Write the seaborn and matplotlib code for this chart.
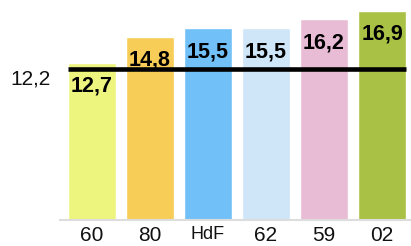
import pandas as pd
import numpy as np
import matplotlib
matplotlib.use('Agg')
import matplotlib.pyplot as plt
import seaborn as sns

categories = ['60', '80', 'HdF', '62', '59', '02']
values = [12.7, 14.8, 15.5, 15.5, 16.2, 16.9]
labels = ['12,7', '14,8', '15,5', '15,5', '16,2', '16,9']
colors = ['#EEF57F', '#F7CD58', '#71C0F7', '#CFE5F8', '#E9BCD6', '#A9C245']
ref_value = 12.2
ref_label = '12,2'

sns.set_style('white')
plt.rcParams['font.family'] = ['Liberation Sans', 'DejaVu Sans']
plt.rcParams['text.color'] = 'black'
plt.rcParams['xtick.color'] = 'black'

df = pd.DataFrame({'cat': categories, 'val': values})

fig = plt.figure(figsize=(4.11, 2.46), dpi=100)
ax = fig.add_axes([60/411, 26/246, 351/411, 220/246])
sns.barplot(data=df, x='cat', y='val', hue='cat', palette=colors,
            legend=False, width=0.83, saturation=1, ax=ax)

# ligne de référence
ax.plot([-0.415, len(values) - 1 + 0.415], [ref_value, ref_value],
        color='black', lw=3.3, solid_capstyle='butt', zorder=3)
ax.annotate(ref_label, xy=(0, ref_value), xycoords=('axes fraction', 'data'),
            xytext=(-7, -11), textcoords='offset points',
            ha='right', va='baseline', fontsize=15, color='#111111')

for i, (v, lab) in enumerate(zip(values, labels)):
    ax.annotate(lab, xy=(i, v), xytext=(0, -21), textcoords='offset points',
                ha='center', va='baseline', fontsize=15.5, fontweight='bold',
                color='black', zorder=4)

ax.set_xlim(-0.552, 5.5)
ax.set_ylim(0, 17.77)
ax.set_yticks([])
ax.set_xlabel('')
ax.set_ylabel('')
ax.tick_params(axis='x', length=0, pad=4, labelsize=15, labelcolor='#111111')
for t in ax.get_xticklabels():
    if t.get_text() == 'HdF':
        t.set_fontsize(13)
for s in ['top', 'right', 'left']:
    ax.spines[s].set_visible(False)
ax.spines['bottom'].set_color('#DDDDDD')
ax.spines['bottom'].set_linewidth(1.5)

fig.savefig('out.png', dpi=100)
